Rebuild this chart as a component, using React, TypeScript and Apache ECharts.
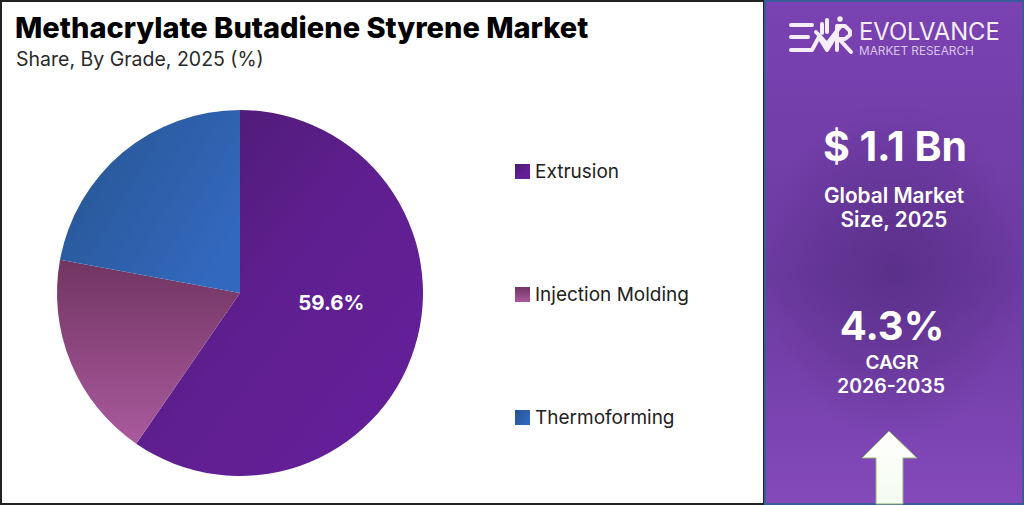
import { useEffect, useRef } from "react";
import * as echarts from "echarts";

const grades = ["Extrusion", "Injection Molding", "Thermoforming"];
const shares = [59.6, 18.3, 22.1];
const panelStats = ["$ 1.1 Bn", "4.3%"];

const FONT = "Inter";

const sliceColors = [
  new echarts.graphic.LinearGradient(0, 0, 1, 1, [
    { offset: 0, color: "#4a1a6e" },
    { offset: 0.5, color: "#5f1f90" },
    { offset: 1, color: "#661f9c" },
  ]),
  new echarts.graphic.LinearGradient(0, 0, 0, 1, [
    { offset: 0, color: "#713561" },
    { offset: 1, color: "#aa5a9e" },
  ]),
  new echarts.graphic.LinearGradient(0, 0, 1, 0.6, [
    { offset: 0, color: "#27548f" },
    { offset: 1, color: "#3268bd" },
  ]),
];

const logoBars = [
  [[791, 25], [812, 25]],
  [[791, 37], [808, 37]],
  [[791, 50], [812, 50], [819, 37], [827, 50], [835, 37]],
  [[827, 20], [827, 32]],
  [[822, 24], [822, 33]],
  [[816, 32], [827, 44], [840, 27]],
  [[837, 50], [837, 26], [845, 26], [850, 31], [850, 35], [845, 39], [839, 39], [851, 52]],
];

function text(x: number, y: number, value: string, size: number, weight: number, fill = "#ffffff", align = "center") {
  return {
    type: "text",
    x,
    y,
    style: { text: value, fill, font: `${weight} ${size}px ${FONT}`, align, verticalAlign: "middle" },
  };
}

export default function App() {
  const chartRef = useRef<HTMLDivElement>(null);

  useEffect(() => {
    if (!chartRef.current) return;
    const chart = echarts.init(chartRef.current, null, { renderer: "svg" });

    const option: echarts.EChartsOption = {
      animation: false,
      backgroundColor: "#ffffff",
      legend: {
        orient: "vertical",
        left: 510,
        top: 157,
        itemWidth: 15,
        itemHeight: 15,
        itemGap: 104,
        icon: "rect",
        selectedMode: false,
        textStyle: { fontFamily: FONT, fontSize: 19, color: "#222222" },
      },
      series: [
        {
          type: "pie",
          center: [240, 293],
          radius: [0, 183],
          startAngle: 90,
          clockwise: true,
          silent: true,
          labelLine: { show: false },
          data: grades.map((name, i) => ({
            name,
            value: shares[i],
            itemStyle: { color: sliceColors[i] },
            label:
              i === 0
                ? {
                    show: true,
                    position: "inside",
                    formatter: "{c}%",
                    color: "#ffffff",
                    fontFamily: FONT,
                    fontWeight: 700,
                    fontSize: 20.5,
                    offset: [1, -19],
                  }
                : { show: false },
          })),
        },
      ],
      graphic: [
        {
          type: "rect",
          z: -1,
          shape: { x: 1, y: 1, width: 763, height: 503 },
          style: { fill: "#ffffff", stroke: "#222222", lineWidth: 2 },
        },
        {
          type: "rect",
          shape: { x: 765, y: 1, width: 258, height: 503 },
          style: {
            stroke: "#3a5a9c",
            lineWidth: 2,
            fill: new echarts.graphic.LinearGradient(0, 0, 0, 1, [
              { offset: 0, color: "#7a42b2" },
              { offset: 0.55, color: "#6b3aa0" },
              { offset: 1, color: "#8449ba" },
            ]),
          },
        },
        {
          type: "rect",
          shape: { x: 766, y: 100, width: 256, height: 340 },
          style: {
            fill: new echarts.graphic.RadialGradient(0.5, 0.5, 0.5, [
              { offset: 0, color: "rgba(70,35,110,0.45)" },
              { offset: 0.6, color: "rgba(70,35,110,0.2)" },
              { offset: 1, color: "rgba(70,35,110,0)" },
            ]),
          },
        },
        ...logoBars.map((points) => ({
          type: "polyline",
          shape: { points },
          style: { stroke: "#f6eefc", lineWidth: 4, fill: "none", lineCap: "round", lineJoin: "round" },
        })),
        { type: "circle", shape: { cx: 840, cy: 19, r: 2.8 }, style: { fill: "#f6eefc" } },
        text(859, 31, "EVOLVANCE", 23.8, 400, "#f6eefc", "left"),
        text(859, 51, "MARKET RESEARCH", 11.8, 400, "#d9c6ee", "left"),
        text(895, 146, panelStats[0], 41, 700),
        text(894, 195, "Global Market", 20.8, 600),
        text(894, 219, "Size, 2025", 20.8, 600),
        text(892, 325, panelStats[1], 40, 700),
        text(892, 362, "CAGR", 19, 600),
        text(891, 386, "2026-2035", 19.5, 600),
        {
          type: "polygon",
          shape: {
            points: [[889, 431], [917, 458], [903, 458], [903, 504], [876, 504], [876, 458], [862, 458]],
          },
          style: {
            fill: new echarts.graphic.LinearGradient(0, 0, 0, 1, [
              { offset: 0, color: "#ffffff" },
              { offset: 1, color: "#f4fbef" },
            ]),
            stroke: "#8fb56f",
            lineWidth: 1,
          },
        },
        text(15, 27, "Methacrylate Butadiene Styrene Market", 29, 800, "#000000", "left"),
        text(16, 59, "Share, By Grade, 2025 (%)", 19.5, 400, "#2a2a2a", "left"),
      ],
    };

    chart.setOption(option);
    return () => chart.dispose();
  }, []);

  return <div ref={chartRef} style={{ position: "absolute", left: 0, top: 0, width: 1024, height: 505 }} />;
}
